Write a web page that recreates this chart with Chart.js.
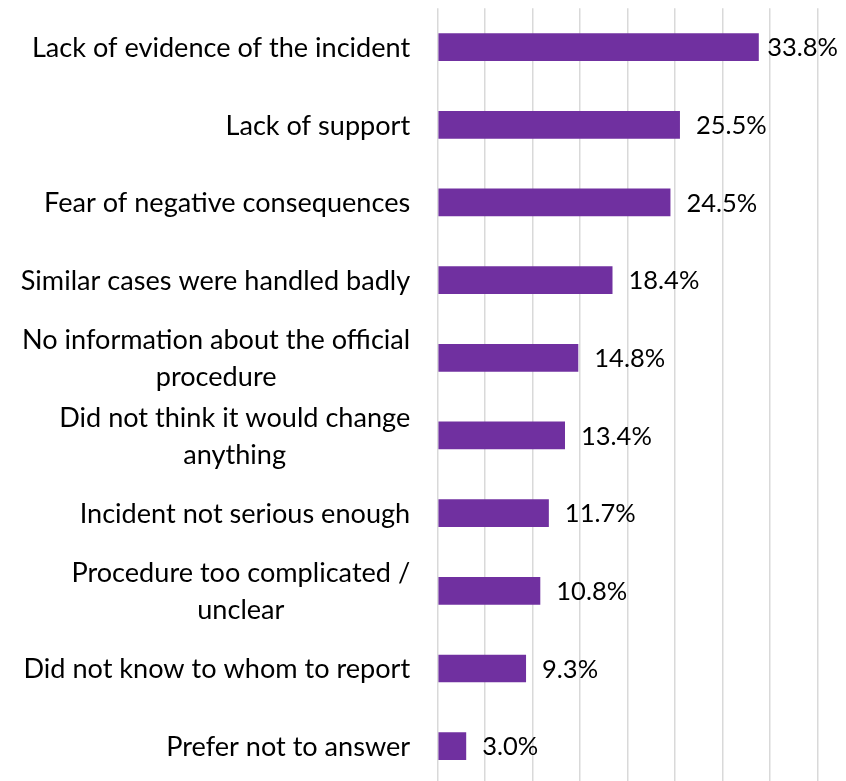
<!DOCTYPE html>
<html>
<head>
<meta charset="utf-8">
<script src="https://cdn.jsdelivr.net/npm/chart.js@4/dist/chart.umd.min.js"></script>
<style>
  html, body { margin: 0; padding: 0; background: #fff; overflow: hidden; }
  #wrap { width: 846px; height: 785px; }
</style>
</head>
<body>
<div id="wrap"><canvas id="c" width="846" height="785"></canvas></div>
<script>
// Reasons for not reporting an incident (share of respondents, %)
const reasons = [
  ["Lack of evidence of the incident"],
  ["Lack of support"],
  ["Fear of negative consequences"],
  ["Similar cases were handled badly"],
  ["No information about the official", "procedure"],
  ["Did not think it would change", "anything"],
  ["Incident not serious enough"],
  ["Procedure too complicated /", "unclear"],
  ["Did not know to whom to report"],
  ["Prefer not to answer"]
];
const shares = [33.8, 25.5, 24.5, 18.4, 14.8, 13.4, 11.7, 10.8, 9.3, 3.0];
const gridSteps = [0, 5, 10, 15, 20, 25, 30, 35, 40];

const FONT = 'Lato, "Liberation Sans", sans-serif';
const CAT_SIZE = 27.1;
const VAL_SIZE = 25.5;
const LINE_GAP = 37;

// Category labels (right-aligned block, lines centred) and value labels
const labelPlugin = {
  id: 'barLabels',
  afterDatasetsDraw(chart) {
    const ctx = chart.ctx;
    const yScale = chart.scales.y;
    const meta = chart.getDatasetMeta(0);
    ctx.save();
    ctx.fillStyle = '#000';
    ctx.textBaseline = 'alphabetic';

    // category names
    ctx.font = CAT_SIZE + 'px ' + FONT;
    const rightEdge = chart.chartArea.left - 27.5;
    chart.data.labels.forEach((lines, i) => {
      const cy = yScale.getPixelForValue(i);
      const widths = lines.map(l => ctx.measureText(l).width);
      const blockW = Math.max(...widths);
      const mid = rightEdge - blockW / 2;
      ctx.textAlign = 'center';
      lines.forEach((line, k) => {
        const by = cy + CAT_SIZE * 0.358 + (k - (lines.length - 1) / 2) * LINE_GAP;
        ctx.fillText(line, mid, by);
      });
    });

    // value labels at the bar ends
    ctx.font = VAL_SIZE + 'px ' + FONT;
    ctx.textAlign = 'left';
    meta.data.forEach((bar, i) => {
      const txt = chart.data.datasets[0].data[i].toFixed(1) + '%';
      const w = ctx.measureText(txt).width;
      const x = Math.min(bar.x + 16, chart.width - 8 - w);
      ctx.fillText(txt, x, bar.y + VAL_SIZE * 0.358);
    });
    ctx.restore();
  }
};

new Chart(document.getElementById('c'), {
  type: 'bar',
  data: {
    labels: reasons,
    datasets: [{
      data: shares,
      backgroundColor: '#7030A0',
      borderWidth: 0,
      categoryPercentage: 1,
      barPercentage: 0.357
    }]
  },
  options: {
    indexAxis: 'y',
    responsive: false,
    animation: false,
    devicePixelRatio: 1,
    layout: { padding: { left: 437.7, right: 28.3, top: 8.3, bottom: 0 } },
    plugins: {
      legend: { display: false },
      tooltip: { enabled: false }
    },
    scales: {
      x: {
        min: gridSteps[0],
        max: gridSteps[gridSteps.length - 1],
        afterBuildTicks(scale) { scale.ticks = gridSteps.map(v => ({ value: v })); },
        ticks: { display: false },
        grid: { color: '#d9d9d9', lineWidth: 1.5, drawTicks: false },
        border: { display: false }
      },
      y: {
        display: false
      }
    }
  },
  plugins: [labelPlugin]
});
</script>
</body>
</html>
